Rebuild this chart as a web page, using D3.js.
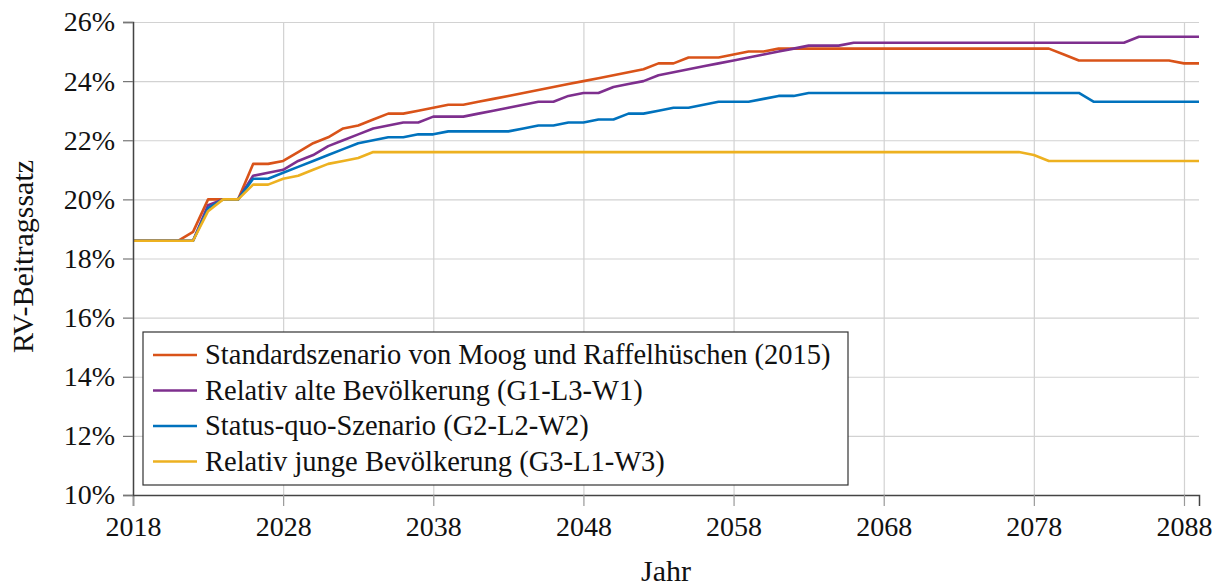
<!DOCTYPE html>
<html>
<head>
<meta charset="utf-8">
<script src="https://d3js.org/d3.v7.min.js"></script>
<style>
  body { margin: 0; background: #fff; }
  svg text { font-family: "Liberation Serif", "Tinos", "DejaVu Serif", "Noto Serif", "FreeSerif", serif; fill: #111; }
</style>
</head>
<body>
<svg id="vis"></svg>
<script>
// years shown on the x axis
var years = d3.range(2018, 2090)
var xTicks = [2018, 2028, 2038, 2048, 2058, 2068, 2078, 2088]
var yTicks = [10, 12, 14, 16, 18, 20, 22, 24, 26]

var seriesNames = [
  "Standardszenario von Moog und Raffelhüschen (2015)",
  "Relativ alte Bevölkerung (G1-L3-W1)",
  "Status-quo-Szenario (G2-L2-W2)",
  "Relativ junge Bevölkerung (G3-L1-W3)"
]
var seriesColors = ["#D95319", "#7E2F8E", "#0072BD", "#EDB120"]

// RV-Beitragssatz in %, one value per year 2018..2089
var standard = [18.6, 18.6, 18.6, 18.6, 18.9, 20.0, 20.0, 20.0, 21.2, 21.2,
  21.3, 21.6, 21.9, 22.1, 22.4, 22.5, 22.7, 22.9, 22.9, 23.0,
  23.1, 23.2, 23.2, 23.3, 23.4, 23.5, 23.6, 23.7, 23.8, 23.9,
  24.0, 24.1, 24.2, 24.3, 24.4, 24.6, 24.6, 24.8, 24.8, 24.8,
  24.9, 25.0, 25.0, 25.1, 25.1, 25.1, 25.1, 25.1, 25.1, 25.1,
  25.1, 25.1, 25.1, 25.1, 25.1, 25.1, 25.1, 25.1, 25.1, 25.1,
  25.1, 25.1, 24.9, 24.7, 24.7, 24.7, 24.7, 24.7, 24.7, 24.7,
  24.6, 24.6]
var alt = [18.6, 18.6, 18.6, 18.6, 18.6, 19.8, 20.0, 20.0, 20.8, 20.9,
  21.0, 21.3, 21.5, 21.8, 22.0, 22.2, 22.4, 22.5, 22.6, 22.6,
  22.8, 22.8, 22.8, 22.9, 23.0, 23.1, 23.2, 23.3, 23.3, 23.5,
  23.6, 23.6, 23.8, 23.9, 24.0, 24.2, 24.3, 24.4, 24.5, 24.6,
  24.7, 24.8, 24.9, 25.0, 25.1, 25.2, 25.2, 25.2, 25.3, 25.3,
  25.3, 25.3, 25.3, 25.3, 25.3, 25.3, 25.3, 25.3, 25.3, 25.3,
  25.3, 25.3, 25.3, 25.3, 25.3, 25.3, 25.3, 25.5, 25.5, 25.5,
  25.5, 25.5]
var statusQuo = [18.6, 18.6, 18.6, 18.6, 18.6, 19.7, 20.0, 20.0, 20.7, 20.7,
  20.9, 21.1, 21.3, 21.5, 21.7, 21.9, 22.0, 22.1, 22.1, 22.2,
  22.2, 22.3, 22.3, 22.3, 22.3, 22.3, 22.4, 22.5, 22.5, 22.6,
  22.6, 22.7, 22.7, 22.9, 22.9, 23.0, 23.1, 23.1, 23.2, 23.3,
  23.3, 23.3, 23.4, 23.5, 23.5, 23.6, 23.6, 23.6, 23.6, 23.6,
  23.6, 23.6, 23.6, 23.6, 23.6, 23.6, 23.6, 23.6, 23.6, 23.6,
  23.6, 23.6, 23.6, 23.6, 23.3, 23.3, 23.3, 23.3, 23.3, 23.3,
  23.3, 23.3]
var jung = [18.6, 18.6, 18.6, 18.6, 18.6, 19.6, 20.0, 20.0, 20.5, 20.5,
  20.7, 20.8, 21.0, 21.2, 21.3, 21.4, 21.6, 21.6, 21.6, 21.6,
  21.6, 21.6, 21.6, 21.6, 21.6, 21.6, 21.6, 21.6, 21.6, 21.6,
  21.6, 21.6, 21.6, 21.6, 21.6, 21.6, 21.6, 21.6, 21.6, 21.6,
  21.6, 21.6, 21.6, 21.6, 21.6, 21.6, 21.6, 21.6, 21.6, 21.6,
  21.6, 21.6, 21.6, 21.6, 21.6, 21.6, 21.6, 21.6, 21.6, 21.6,
  21.5, 21.3, 21.3, 21.3, 21.3, 21.3, 21.3, 21.3, 21.3, 21.3,
  21.3, 21.3]

var allSeries = [standard, alt, statusQuo, jung]

var W = 1223, H = 588
var margin = {left: 133, top: 22, right: 24, bottom: 93}
var w = W - margin.left - margin.right
var h = H - margin.top - margin.bottom

var svg = d3.select("#vis")
  .attr("width", W)
  .attr("height", H)

var g = svg.append("g")
  .attr("transform", "translate(" + margin.left + "," + margin.top + ")")

var x = d3.scaleLinear().domain([2018, 2089]).range([0, w])
var y = d3.scaleLinear().domain([10, 26]).range([h, 0])

// grid
g.append("g")
  .attr("transform", "translate(0," + h + ")")
  .call(d3.axisBottom(x).tickValues(xTicks).tickSize(-h).tickFormat(""))
  .call(function(s) {
    s.select(".domain").remove()
    s.selectAll("line").attr("stroke", "#d2d2d2").attr("stroke-width", 1.2)
  })
g.append("g")
  .call(d3.axisLeft(y).tickValues(yTicks).tickSize(-w).tickFormat(""))
  .call(function(s) {
    s.select(".domain").remove()
    s.selectAll("line").attr("stroke", "#d2d2d2").attr("stroke-width", 1.2)
  })

// lines
var line = d3.line()
  .x(function(d, i) { return x(years[i]) })
  .y(function(d) { return y(d) })

allSeries.forEach(function(s, k) {
  g.append("path")
    .datum(s)
    .attr("fill", "none")
    .attr("stroke", seriesColors[k])
    .attr("stroke-width", 2.6)
    .attr("stroke-linejoin", "round")
    .attr("d", line)
})

// axes
g.append("g")
  .attr("transform", "translate(0," + h + ")")
  .call(d3.axisBottom(x).tickValues(xTicks).tickSize(11).tickPadding(10).tickFormat(d3.format("d")))
  .call(function(s) {
    s.attr("font-family", null).attr("font-size", null)
    s.select(".domain").attr("stroke", "#444").attr("stroke-width", 1.5)
    s.selectAll(".tick line").attr("stroke", "#999").attr("stroke-width", 1.2)
    s.selectAll("text").attr("font-size", 28).attr("fill", "#111")
  })

g.append("g")
  .call(d3.axisLeft(y).tickValues(yTicks).tickSize(10).tickPadding(8).tickFormat(function(d) { return d + "%" }))
  .call(function(s) {
    s.attr("font-family", null).attr("font-size", null)
    s.select(".domain").attr("stroke", "#444").attr("stroke-width", 1.5)
    s.selectAll(".tick line").attr("stroke", "#777").attr("stroke-width", 1.2)
    s.selectAll("text").attr("font-size", 28).attr("fill", "#111")
  })

// axis titles
g.append("text")
  .attr("x", w / 2)
  .attr("y", h + 86)
  .attr("text-anchor", "middle")
  .attr("font-size", 30)
  .text("Jahr")

g.append("text")
  .attr("transform", "translate(" + (-100) + "," + (h / 2 - 2) + ") rotate(-90)")
  .attr("text-anchor", "middle")
  .attr("font-size", 30)
  .text("RV-Beitragssatz")

// legend
var lg = g.append("g").attr("transform", "translate(10,310)")
lg.append("rect")
  .attr("width", 705)
  .attr("height", 153)
  .attr("fill", "#fff")
  .attr("stroke", "#333")
  .attr("stroke-width", 1.2)

seriesNames.forEach(function(name, k) {
  var yy = 23 + k * 35.5
  lg.append("line")
    .attr("x1", 10).attr("x2", 54)
    .attr("y1", yy).attr("y2", yy)
    .attr("stroke", seriesColors[k])
    .attr("stroke-width", 2.6)
  lg.append("text")
    .attr("x", 62)
    .attr("y", yy + 9)
    .attr("font-size", 28.5)
    .text(name)
})
</script>
</body>
</html>
